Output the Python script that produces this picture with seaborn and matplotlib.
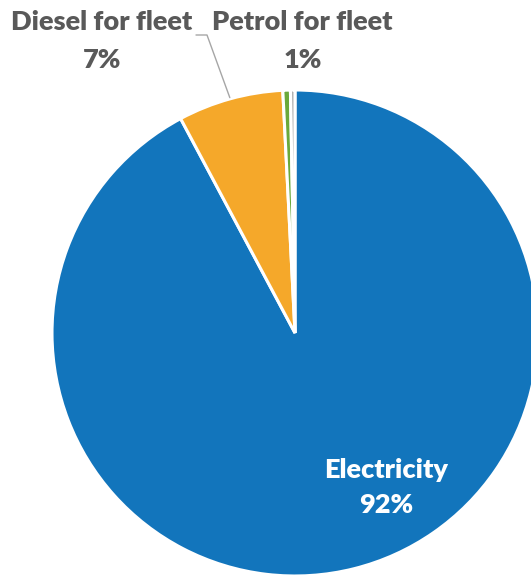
import matplotlib
matplotlib.use("Agg")
import matplotlib.pyplot as plt
import seaborn as sns
import numpy as np

categories = ["Electricity", "Diesel for fleet", "Petrol for fleet", "Other"]
values = [92.2, 7.0, 0.5, 0.3]
pct_labels = ["92%", "7%", "1%", ""]
colors = sns.color_palette(["#1275bc", "#f5a82a", "#6aa93b", "#b0b0b0"])

sns.set_theme(style="white")
plt.rcParams['font.family'] = ['Lato', 'DejaVu Sans']

W, H = 531, 575
fig = plt.figure(figsize=(W / 100, H / 100), dpi=100)
cx, cy, r = 295, 333, 243
ax = fig.add_axes([(cx - r) / W, (H - cy - r) / H, 2 * r / W, 2 * r / H])
wedges, _ = ax.pie(values, colors=colors, startangle=90, counterclock=False,
                   radius=1, wedgeprops=dict(edgecolor="white", linewidth=2.2))
for w in wedges:
    w.set_clip_on(False)
ax.set_xlim(-1, 1)
ax.set_ylim(-1, 1)
ax.set_aspect("equal")
ax.axis("off")

def px(x, y):
    return (x - cx) / r, (cy - y) / r

grey = "#595959"
fs = 19.5
fw = "heavy"
# Diesel
x, y = px(102, 22)
ax.text(x, y, categories[1], ha="center", va="center", fontsize=fs, fontweight=fw, color=grey)
x, y = px(102, 60)
ax.text(x, y, pct_labels[1], ha="center", va="center", fontsize=fs, fontweight=fw, color=grey)
# Petrol
x, y = px(302, 22)
ax.text(x, y, categories[2], ha="center", va="center", fontsize=fs, fontweight=fw, color=grey)
x, y = px(303, 60)
ax.text(x, y, pct_labels[2], ha="center", va="center", fontsize=fs, fontweight=fw, color=grey)
# Electricity
x, y = px(386, 470)
ax.text(x, y, categories[0], ha="center", va="center", fontsize=fs, fontweight=fw, color="white")
x, y = px(386, 505)
ax.text(x, y, pct_labels[0], ha="center", va="center", fontsize=fs, fontweight=fw, color="white")

# leader line for diesel
w = wedges[1]
theta = np.deg2rad(0.5 * (w.theta1 + w.theta2))
tip = (1.005 * np.cos(theta), 1.005 * np.sin(theta))
p1 = px(196, 35)
p2 = px(207, 35)
ax.plot([p1[0], p2[0], tip[0]], [p1[1], p2[1], tip[1]], color="#a6a6a6", lw=1, clip_on=False)

fig.savefig("out.png", dpi=100)
